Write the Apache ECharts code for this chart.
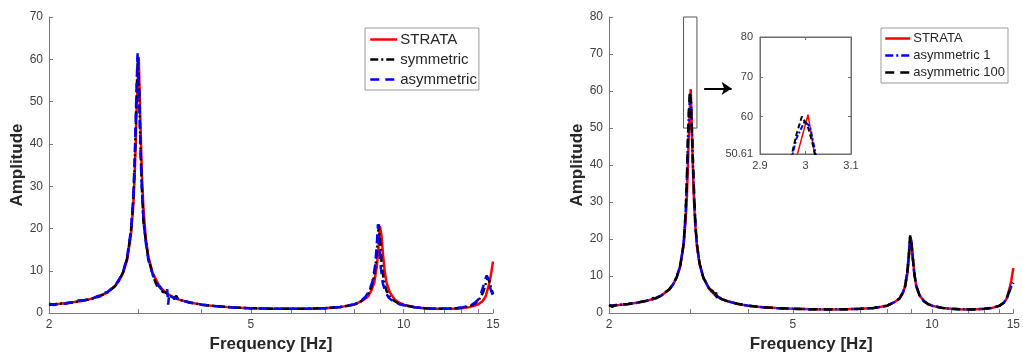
<!DOCTYPE html>
<html>
<head>
<meta charset="utf-8">
<script src="https://cdn.jsdelivr.net/npm/echarts@6/dist/echarts.min.js"></script>
<style>
html,body{margin:0;padding:0;background:#fff;}
#chart{width:1023px;height:358px;}
</style>
</head>
<body>
<div id="chart"></div>
<script>
// ---- data: [frequency Hz, amplitude] ----
const strata = [[2.0,2.0],[2.1,2.2],[2.2,2.46],[2.3,2.79],[2.4,3.24],[2.5,3.86],[2.6,4.81],[2.7,6.39],[2.75,7.66],[2.8,9.5],[2.85,12.5],[2.9,18.3],[2.93,24.9],[2.95,32.4],[2.965,40.6],[2.975,47.5],[3.0055,60.5],[3.03,43.7],[3.05,32.2],[3.07,24.8],[3.1,18.2],[3.14,13.3],[3.2,9.5],[3.3,6.4],[3.4,4.8],[3.5,3.86],[3.6,3.24],[3.8,2.46],[4.0,2.0],[4.3,1.59],[4.6,1.35],[5.0,1.15],[5.5,1.04],[6.0,1.0],[6.5,1.04],[7.0,1.15],[7.5,1.41],[8.0,2.0],[8.3,3.0],[8.5,3.86],[8.65,5.5],[8.75,7.2],[8.85,10.8],[8.92,15.4],[8.98,20.6],[9.04,18.5],[9.1,14.2],[9.17,10.2],[9.25,7.2],[9.4,4.81],[9.6,3.24],[9.8,2.46],[10.0,2.0],[10.5,1.41],[11.0,1.15],[11.5,1.04],[12.0,1.0],[12.5,1.04],[13.0,1.15],[13.5,1.41],[14.0,2.0],[14.3,2.79],[14.5,3.86],[14.7,6.4],[14.85,8.8],[15.0,12.2]];

const symmetricL = [[2.0,2.0],[2.05,2.1],[2.1,2.2],[2.2,2.45],[2.3,2.8],[2.4,3.25],[2.45,3.5],[2.5,3.9],[2.6,4.8],[2.7,6.4],[2.75,7.8],[2.8,9.7],[2.85,12.9],[2.9,19],[2.93,26],[2.95,34.5],[2.965,44],[2.975,51],[2.993,60.8],[3.01,53],[3.03,39],[3.05,29],[3.07,21.5],[3.1,17.5],[3.14,12.8],[3.2,9.3],[3.235,7.6],[3.27,6.2],[3.3,6.5],[3.35,5.0],[3.4,4.9],[3.45,4.0],[3.5,3.9],[3.53,3.3],[3.56,4.1],[3.6,3.2],[3.7,2.8],[3.8,2.5],[4.0,2.0],[4.3,1.6],[4.6,1.35],[5.0,1.15],[5.5,1.05],[6.0,1.0],[6.5,1.05],[7.0,1.17],[7.5,1.43],[8.0,2.05],[8.2,2.6],[8.4,3.6],[8.55,4.9],[8.7,7.4],[8.8,11],[8.87,16],[8.93,21],[8.99,16.5],[9.06,11],[9.15,7.3],[9.25,5.3],[9.4,3.7],[9.6,2.8],[9.8,2.2],[10.0,1.9],[10.5,1.4],[11.0,1.15],[11.5,1.05],[12.0,1.03],[12.5,1.08],[13.0,1.25],[13.5,1.65],[13.8,2.2],[14.0,2.8],[14.2,3.9],[14.35,5.0],[14.5,6.8],[14.65,8.4],[14.75,7.6],[14.85,6.2],[15.0,4.5]];

const asymmetricL = [[2.0,2.2],[2.05,1.9],[2.1,2.3],[2.15,2.2],[2.2,2.5],[2.25,2.5],[2.28,3.0],[2.3,2.7],[2.35,3.1],[2.4,3.2],[2.45,3.6],[2.5,4.1],[2.53,4.0],[2.56,5.0],[2.6,4.8],[2.65,5.7],[2.7,6.6],[2.75,8.0],[2.8,9.9],[2.85,13.2],[2.9,19.5],[2.93,27],[2.95,36],[2.965,46],[2.975,53],[2.99,61.4],[3.01,52],[3.03,38],[3.05,28.5],[3.07,22],[3.1,17],[3.14,12.5],[3.2,9.2],[3.25,7.4],[3.3,6.2],[3.35,5.3],[3.4,5.0],[3.42,5.6],[3.435,2.0],[3.45,4.6],[3.5,3.7],[3.55,3.6],[3.6,3.2],[3.7,2.8],[3.8,2.45],[4.0,2.0],[4.3,1.6],[4.6,1.35],[5.0,1.15],[5.5,1.05],[6.0,1.0],[6.5,1.05],[7.0,1.17],[7.5,1.45],[8.0,2.1],[8.2,2.7],[8.4,3.8],[8.55,5.2],[8.68,7.5],[8.78,11],[8.85,16],[8.9,21],[8.95,16],[9.02,10.5],[9.1,7],[9.2,5],[9.35,3.6],[9.55,2.7],[9.8,2.1],[10.0,1.85],[10.5,1.4],[11.0,1.15],[11.5,1.05],[12.0,1.05],[12.5,1.1],[13.0,1.3],[13.5,1.75],[13.8,2.4],[14.0,3.1],[14.2,4.6],[14.35,6.3],[14.5,8.2],[14.58,8.9],[14.68,8.0],[14.8,6.0],[14.9,5.0],[15.0,4.1]];

const asymmetric1 = [[2.0,2.0],[2.1,2.2],[2.2,2.45],[2.3,2.8],[2.4,3.25],[2.5,3.85],[2.6,4.8],[2.7,6.4],[2.75,7.7],[2.8,9.6],[2.85,12.6],[2.9,18.5],[2.93,27],[2.95,37],[2.965,47.5],[2.98,54.5],[2.998,58.8],[3.01,57.5],[3.018,53],[3.026,48.5],[3.04,40],[3.06,30],[3.08,23],[3.1,18.5],[3.14,13.5],[3.2,9.6],[3.3,6.4],[3.4,4.8],[3.5,3.9],[3.6,3.25],[3.8,2.5],[4.0,2.0],[4.3,1.6],[4.6,1.35],[5.0,1.15],[5.5,1.04],[6.0,1.0],[6.5,1.04],[7.0,1.15],[7.5,1.41],[8.0,2.0],[8.3,3.0],[8.5,3.9],[8.65,5.5],[8.75,7.4],[8.85,11.5],[8.92,16.5],[8.97,21],[9.02,19.5],[9.08,15.5],[9.15,11],[9.25,7.3],[9.4,4.8],[9.6,3.25],[9.8,2.45],[10.0,2.0],[10.5,1.41],[11.0,1.15],[11.5,1.04],[12.0,1.0],[12.5,1.04],[13.0,1.15],[13.5,1.41],[14.0,2.0],[14.3,2.8],[14.5,3.8],[14.7,5.8],[14.85,7.2],[15.0,8.2]];

const asymmetric100 = [[2.0,2.2],[2.03,1.7],[2.06,2.1],[2.1,2.2],[2.2,2.45],[2.3,2.8],[2.4,3.3],[2.46,3.6],[2.49,4.1],[2.52,3.9],[2.6,4.8],[2.7,6.4],[2.75,7.7],[2.8,9.6],[2.85,12.6],[2.9,18.6],[2.93,27],[2.95,37],[2.965,48],[2.98,55.5],[2.992,60.0],[3.005,57.5],[3.015,53.5],[3.025,48.5],[3.04,40.5],[3.06,30.5],[3.08,23],[3.1,18.5],[3.14,13.5],[3.2,9.6],[3.3,6.6],[3.36,5.9],[3.39,4.2],[3.41,5.6],[3.43,3.6],[3.46,4.3],[3.5,3.8],[3.6,3.3],[3.8,2.5],[4.0,2.0],[4.3,1.6],[4.6,1.35],[5.0,1.15],[5.5,1.04],[6.0,1.0],[6.5,1.04],[7.0,1.15],[7.5,1.41],[8.0,2.0],[8.3,3.0],[8.5,3.9],[8.65,5.5],[8.75,7.4],[8.85,11.5],[8.92,16.5],[8.97,21],[9.02,19.5],[9.08,15.5],[9.15,11],[9.25,7.3],[9.4,4.8],[9.6,3.25],[9.8,2.45],[10.0,2.0],[10.5,1.41],[11.0,1.15],[11.5,1.04],[12.0,1.0],[12.5,1.04],[13.0,1.15],[13.5,1.41],[14.0,2.0],[14.3,2.8],[14.5,3.8],[14.7,5.8],[14.85,7.2],[15.0,8.2]];

const xLabelValues = [2, 5, 10, 15];
const xTickValues = [2, 3, 4, 5, 6, 7, 8, 9, 10, 11, 12, 13, 14, 15];
const insetYValues = [50.61, 60, 70, 80];
const zoomBox = [[2.9, 80], [3.1, 50]];
const arrowLine = [[3.214, 60.7], [3.684, 60.7]];

// ---- styles ----
const FONT = '"Liberation Sans", Arial, sans-serif';
const AX = '#7a7a7a';
const LBL = '#404040';
const TITLE = '#262626';
const RED = '#ff0000', BLUE = '#0000ff', BLACK = '#000000';
const LW = 2.5;
const DASH = [9, 6];
const DASHDOT = [8, 3, 2, 3];

function logX(gridIndex, fontSize) {
  return {
    type: 'log', logBase: 10, gridIndex, min: 2, max: 15,
    name: 'Frequency [Hz]', nameLocation: 'middle', nameGap: 20,
    nameTextStyle: { fontFamily: FONT, fontSize: 17, fontWeight: 'bold', color: TITLE, verticalAlign: 'top' },
    axisLine: { show: true, lineStyle: { color: AX, width: 1 } },
    axisTick: { show: true, inside: true, length: 4, customValues: xTickValues, lineStyle: { color: AX } },
    minorTick: { show: false },
    axisLabel: { show: true, customValues: xLabelValues, margin: 6, fontFamily: FONT, fontSize, color: LBL },
    splitLine: { show: false }
  };
}
function yAx(gridIndex, max, fontSize, gap) {
  return {
    type: 'value', gridIndex, min: 0, max, interval: 10,
    name: 'Amplitude', nameLocation: 'middle', nameGap: gap, nameRotate: 90,
    nameTextStyle: { fontFamily: FONT, fontSize: 17, fontWeight: 'bold', color: TITLE },
    axisLine: { show: true, lineStyle: { color: AX, width: 1 } },
    axisTick: { show: true, inside: true, length: 4, lineStyle: { color: AX } },
    axisLabel: { margin: 6, fontFamily: FONT, fontSize, color: LBL },
    splitLine: { show: false }
  };
}
function line(name, data, color, type, xi, yi, z, extra) {
  return Object.assign({
    name, type: 'line', data, xAxisIndex: xi, yAxisIndex: yi,
    showSymbol: false, symbol: 'none', smooth: false, clip: true, z,
    lineStyle: { color, width: LW, type },
    itemStyle: { color },
    emphasis: { disabled: true }
  }, extra || {});
}

const chart = echarts.init(document.getElementById('chart'), null, { renderer: 'canvas' });
chart.setOption({
  animation: false,
  backgroundColor: '#fff',
  grid: [
    { left: 49, top: 17, width: 444, height: 297 },
    { left: 609, top: 17, width: 409, height: 299 },
    { left: 760, top: 37, width: 91, height: 117, show: true, backgroundColor: '#fff', borderColor: '#6e6e6e', borderWidth: 1, z: 5 }
  ],
  xAxis: [
    logX(0, 12),
    logX(1, 12),
    { type: 'value', gridIndex: 2, min: 2.9, max: 3.1, interval: 0.1, position: 'bottom', z: 6,
      axisLine: { show: true, lineStyle: { color: '#6e6e6e' } },
      axisTick: { show: true, inside: true, length: 3, lineStyle: { color: '#6e6e6e' } },
      axisLabel: { margin: 6, fontFamily: FONT, fontSize: 11, color: LBL },
      splitLine: { show: false } },
    { type: 'value', gridIndex: 2, min: 2.9, max: 3.1, interval: 0.1, position: 'top', z: 6,
      axisLine: { show: true, lineStyle: { color: '#6e6e6e' } },
      axisTick: { show: true, inside: true, length: 3, lineStyle: { color: '#6e6e6e' } },
      axisLabel: { show: false }, splitLine: { show: false } }
  ],
  yAxis: [
    yAx(0, 70, 12, 22),
    yAx(1, 80, 12, 19),
    { type: 'value', gridIndex: 2, min: 50.61, max: 80, position: 'left', z: 6,
      axisLine: { show: true, lineStyle: { color: '#6e6e6e' } },
      axisTick: { show: true, inside: true, length: 3, customValues: insetYValues, lineStyle: { color: '#6e6e6e' } },
      axisLabel: { margin: 7, customValues: insetYValues, fontFamily: FONT, fontSize: 11, color: LBL },
      splitLine: { show: false } },
    { type: 'value', gridIndex: 2, min: 50.61, max: 80, position: 'right', z: 6,
      axisLine: { show: true, lineStyle: { color: '#6e6e6e' } },
      axisTick: { show: true, inside: true, length: 3, customValues: insetYValues, lineStyle: { color: '#6e6e6e' } },
      axisLabel: { show: false }, splitLine: { show: false } }
  ],
  legend: [
    { data: ['STRATA', 'symmetric', 'asymmetric'], orient: 'vertical', left: 365, top: 28,
      padding: [4, 2, 3, 4], itemGap: 5, itemWidth: 27, itemHeight: 14, itemStyle: { opacity: 0 },
      lineStyle: { width: 2.5 },
      borderColor: '#9a9a9a', borderWidth: 1, backgroundColor: '#fff', selectedMode: false,
      textStyle: { fontFamily: FONT, fontSize: 15, color: TITLE, padding: [0, 0, 0, -2] } },
    { data: ['STRATA ', 'asymmetric 1', 'asymmetric 100'], orient: 'vertical', left: 881, top: 28,
      padding: [4, 3, 4, 3], itemGap: 4, itemWidth: 25, itemHeight: 13.5, itemStyle: { opacity: 0 },
      lineStyle: { width: 2.5 },
      borderColor: '#9a9a9a', borderWidth: 1, backgroundColor: '#fff', selectedMode: false,
      textStyle: { fontFamily: FONT, fontSize: 13, color: TITLE, padding: [0, 0, 0, -2] } }
  ],
  series: [
    line('STRATA', strata, RED, 'solid', 0, 0, 2),
    line('symmetric', symmetricL, BLACK, DASHDOT, 0, 0, 3),
    line('asymmetric', asymmetricL, BLUE, DASH, 0, 0, 4),

    line('STRATA ', strata, RED, 'solid', 1, 1, 2, {
      markArea: { silent: true, itemStyle: { color: 'rgba(0,0,0,0)', borderColor: '#555', borderWidth: 1 },
        data: [[{ coord: zoomBox[0] }, { coord: zoomBox[1] }]] },
      markLine: { silent: true, symbol: ['none', 'arrow'], symbolSize: 10, label: { show: false },
        lineStyle: { color: '#000', width: 2, type: 'solid' },
        data: [[{ coord: arrowLine[0] }, { coord: arrowLine[1] }]] }
    }),
    line('asymmetric 1', asymmetric1, BLUE, DASHDOT, 1, 1, 3),
    line('asymmetric 100', asymmetric100, BLACK, DASH, 1, 1, 4),

    line('inset STRATA', strata, RED, 'solid', 2, 2, 7, { lineStyle: { color: RED, width: 1.5, type: 'solid' } }),
    line('inset asym1', asymmetric1, BLUE, DASHDOT, 2, 2, 8, { lineStyle: { color: BLUE, width: 2, type: [5, 2, 2, 2] } }),
    line('inset asym100', asymmetric100, BLACK, DASH, 2, 2, 9, { lineStyle: { color: BLACK, width: 2, type: [5, 3] } })
  ]
});
</script>
</body>
</html>
